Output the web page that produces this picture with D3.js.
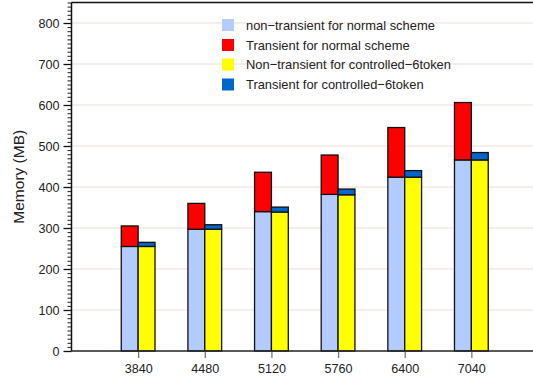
<!DOCTYPE html>
<html>
<head>
<meta charset="utf-8">
<script src="https://cdn.jsdelivr.net/npm/d3@7"></script>
<style>
  html, body { margin: 0; padding: 0; background: #fff; }
  svg { display: block; font-family: "Liberation Sans", Arial, Helvetica, sans-serif; }
</style>
</head>
<body>
<svg id="chart" width="533" height="383"></svg>
<script>
// Problem sizes on the x axis
const categories = [3840, 4480, 5120, 5760, 6400, 7040];
// Memory (MB) for the normal scheme
const normalNonTransient = [255, 297, 340, 382, 424, 466];
const normalTransient = [50, 63, 96, 96, 121, 140];
// Memory (MB) for controlled-6token
const controlledNonTransient = [255, 297, 339, 381, 424, 466];
const controlledTransient = [10, 11, 12, 14, 16, 18];
// Axis ticks
const yTicks = [0, 100, 200, 300, 400, 500, 600, 700, 800];
const legendLabels = [
  "non\u2212transient for normal scheme",
  "Transient for normal scheme",
  "Non\u2212transient for controlled\u22126token",
  "Transient for controlled\u22126token"
];
const colors = ["#b3cbff", "#ff0000", "#ffff00", "#0066cc"];

const svg = d3.select("#chart");
const x = d3.scaleLinear().domain([3200, 7680]).range([71.5, 538]);
const y = d3.scaleLinear().domain([0, 850]).range([351, 2.5]);
const barUnits = 162;

// horizontal grid
svg.append("g").selectAll("line").data(yTicks.filter(d => d > 0)).join("line")
  .attr("x1", x(3200)).attr("x2", x(7680))
  .attr("y1", d => y(d)).attr("y2", d => y(d))
  .attr("stroke", "#eeded6").attr("stroke-width", 1.2);

// stacked bars
const segs = [];
categories.forEach((c, i) => {
  segs.push({x0: c - barUnits, x1: c, y0: 0, y1: normalNonTransient[i], color: colors[0]});
  segs.push({x0: c - barUnits, x1: c, y0: normalNonTransient[i], y1: normalNonTransient[i] + normalTransient[i], color: colors[1]});
  segs.push({x0: c, x1: c + barUnits, y0: 0, y1: controlledNonTransient[i], color: colors[2]});
  segs.push({x0: c, x1: c + barUnits, y0: controlledNonTransient[i], y1: controlledNonTransient[i] + controlledTransient[i], color: colors[3]});
});
svg.append("g").selectAll("rect").data(segs).join("rect")
  .attr("x", d => x(d.x0)).attr("width", d => x(d.x1) - x(d.x0))
  .attr("y", d => y(d.y1)).attr("height", d => y(d.y0) - y(d.y1))
  .attr("fill", d => d.color)
  .attr("stroke", "#111").attr("stroke-width", 1.3);

// y axis: minor ticks every 10
const yMinor = d3.axisLeft(y).tickValues(d3.range(0, 851, 10)).tickSize(4).tickFormat("");
svg.append("g").attr("transform", `translate(${x(3200)},0)`).call(yMinor)
  .call(g => g.select(".domain").remove())
  .call(g => g.selectAll("line").attr("stroke", "#222").attr("stroke-width", 1));

const yAxis = d3.axisLeft(y).tickValues(yTicks).tickSize(8).tickPadding(4);
svg.append("g").attr("transform", `translate(${x(3200)},0)`).call(yAxis)
  .call(g => g.select(".domain").remove())
  .call(g => g.selectAll("line").attr("stroke", "#111").attr("stroke-width", 1.3))
  .call(g => g.selectAll("text").attr("font-size", 12.6).attr("fill", "#222")
    .attr("font-family", "Liberation Sans, Arial, sans-serif"));

// x axis
const xAxis = d3.axisBottom(x).tickValues(categories).tickSize(7).tickPadding(6).tickFormat(d3.format("d"));
svg.append("g").attr("transform", `translate(0,${y(0)})`).call(xAxis)
  .call(g => g.select(".domain").remove())
  .call(g => g.selectAll("line").attr("stroke", "#777").attr("stroke-width", 1.3))
  .call(g => g.selectAll("text").attr("font-size", 12.6).attr("fill", "#222")
    .attr("font-family", "Liberation Sans, Arial, sans-serif"));

// frame
svg.append("line").attr("x1", x(3200)).attr("x2", x(7680)).attr("y1", y(0)).attr("y2", y(0))
  .attr("stroke", "#222").attr("stroke-width", 1.5);
svg.append("line").attr("x1", x(3200)).attr("x2", x(3200)).attr("y1", y(0)).attr("y2", y(850))
  .attr("stroke", "#111").attr("stroke-width", 1.5);
svg.append("line").attr("x1", x(3200)).attr("x2", x(7680)).attr("y1", y(850)).attr("y2", y(850))
  .attr("stroke", "#111").attr("stroke-width", 1.5);

// y label
svg.append("text")
  .attr("transform", `translate(24,${y(425)}) rotate(-90)`)
  .attr("text-anchor", "middle")
  .attr("font-size", 15.5).attr("fill", "#222")
  .text("Memory (MB)");

// legend
const legend = svg.append("g");
const rowY = [25, 45, 64.5, 84.5];
legendLabels.forEach((t, i) => {
  legend.append("rect").attr("x", 222).attr("y", rowY[i] - 6).attr("width", 12).attr("height", 12)
    .attr("fill", colors[i]);
  legend.append("text").attr("x", 246).attr("y", rowY[i] + 4.5)
    .attr("font-size", 12.9).attr("fill", "#222").text(t);
});
</script>
</body>
</html>
